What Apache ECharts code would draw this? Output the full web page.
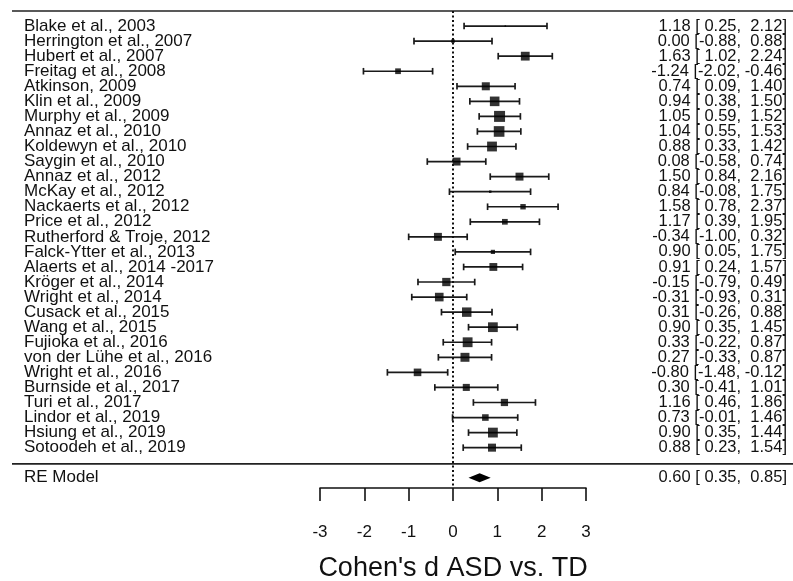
<!DOCTYPE html>
<html>
<head>
<meta charset="utf-8">
<script src="https://cdn.jsdelivr.net/npm/echarts@6.0.0/dist/echarts.min.js"></script>
<style>
  body { margin: 0; background: #fff; }
  #forest { width: 793px; height: 581px; }
</style>
</head>
<body>
<div id="forest"></div>
<script>
var studies = ['Blake et al., 2003', 'Herrington et al., 2007', 'Hubert et al., 2007', 'Freitag et al., 2008',
  'Atkinson, 2009', 'Klin et al., 2009', 'Murphy et al., 2009', 'Annaz et al., 2010', 'Koldewyn et al., 2010',
  'Saygin et al., 2010', 'Annaz et al., 2012', 'McKay et al., 2012', 'Nackaerts et al., 2012', 'Price et al., 2012',
  'Rutherford & Troje, 2012', 'Falck-Ytter et al., 2013', 'Alaerts et al., 2014 -2017', 'Kröger et al., 2014',
  'Wright et al., 2014', 'Cusack et al., 2015', 'Wang et al., 2015', 'Fujioka et al., 2016', 'von der Lühe et al., 2016',
  'Wright et al., 2016', 'Burnside et al., 2017', 'Turi et al., 2017', 'Lindor et al., 2019', 'Hsiung et al., 2019',
  'Sotoodeh et al., 2019'];
var est = [1.18, 0.00, 1.63, -1.24, 0.74, 0.94, 1.05, 1.04, 0.88, 0.08, 1.50, 0.84, 1.58, 1.17, -0.34, 0.90, 0.91,
  -0.15, -0.31, 0.31, 0.90, 0.33, 0.27, -0.80, 0.30, 1.16, 0.73, 0.90, 0.88];
var lower = [0.25, -0.88, 1.02, -2.02, 0.09, 0.38, 0.59, 0.55, 0.33, -0.58, 0.84, -0.08, 0.78, 0.39, -1.00, 0.05, 0.24,
  -0.79, -0.93, -0.26, 0.35, -0.22, -0.33, -1.48, -0.41, 0.46, -0.01, 0.35, 0.23];
var upper = [2.12, 0.88, 2.24, -0.46, 1.40, 1.50, 1.52, 1.53, 1.42, 0.74, 2.16, 1.75, 2.37, 1.95, 0.32, 1.75, 1.57,
  0.49, 0.31, 0.88, 1.45, 0.87, 0.87, -0.12, 1.01, 1.86, 1.46, 1.44, 1.54];
var reModel = { label: 'RE Model', est: 0.60, lower: 0.35, upper: 0.85 };
var xTicks = [-3, -2, -1, 0, 1, 2, 3];

var font = 'Liberation Sans, Arial, sans-serif';
var reRow = studies.length + 1;

// box size from the study weight (random-effects style, from the CI width)
var tau2 = 0.3;
var w = est.map(function (e, i) {
  var se = (upper[i] - lower[i]) / 3.92;
  return 1 / (se * se + tau2);
});
var wMin = Math.min.apply(null, w), wMax = Math.max.apply(null, w);
function boxSize(i) {
  var n = (w[i] - wMin) / (wMax - wMin);
  return 1.5 + 9.5 * Math.pow(n, 0.7);
}

function pad(v) {
  var s = v.toFixed(2);
  return s.length < 5 ? ' ' + s : s;
}
function annot(e, l, u) {
  return pad(e) + ' [' + pad(l) + ', ' + pad(u) + ']';
}

var rows = studies.map(function (s, i) { return i; });
var ciData = rows.map(function (i) { return [lower[i], upper[i], i]; });
var pointData = rows.map(function (i) { return [est[i], i]; });

var chart = echarts.init(document.getElementById('forest'));
chart.setOption({
  animation: false,
  grid: { left: 320, right: 207, top: 11, bottom: 93, outerBoundsMode: 'none' },
  xAxis: {
    type: 'value', min: xTicks[0], max: xTicks[xTicks.length - 1], interval: 1,
    name: "Cohen's d ASD vs. TD", nameLocation: 'middle', nameGap: 67,
    nameTextStyle: { fontFamily: font, fontSize: 27, color: '#111' },
    axisLine: { show: true, onZero: false, lineStyle: { color: '#111', width: 1.6 } },
    axisTick: { show: true, length: 13, lineStyle: { color: '#111', width: 1.6 } },
    axisLabel: { fontFamily: font, fontSize: 17, color: '#111', margin: 36 },
    splitLine: { show: false }
  },
  yAxis: [{
    type: 'value', inverse: true, min: -1, max: 30.68, interval: 1,
    axisLine: { show: false }, axisTick: { show: false }, splitLine: { show: false },
    axisLabel: {
      align: 'left', margin: 296, fontFamily: font, fontSize: 17, color: '#111',
      formatter: function (v) {
        if (v >= 0 && v < studies.length && v % 1 === 0) return studies[v];
        if (v === reRow) return reModel.label;
        return '';
      }
    }
  }, {
    type: 'value', inverse: true, min: -1, max: 30.68, interval: 1, position: 'right',
    axisLine: { show: false }, axisTick: { show: false }, splitLine: { show: false },
    axisLabel: {
      align: 'right', margin: 201, fontFamily: font, fontSize: 16.5, color: '#111',
      formatter: function (v) {
        if (v >= 0 && v < studies.length && v % 1 === 0) return annot(est[v], lower[v], upper[v]);
        if (v === reRow) return annot(reModel.est, reModel.lower, reModel.upper);
        return '';
      }
    }
  }],
  series: [{
    type: 'custom',
    data: ciData,
    encode: { x: [0, 1], y: 2 },
    renderItem: function (params, api) {
      var y = api.value(2);
      var p1 = api.coord([api.value(0), y]);
      var p2 = api.coord([api.value(1), y]);
      var h = 3.3;
      var st = { stroke: '#1a1a1a', lineWidth: 1.7 };
      return {
        type: 'group', children: [
          { type: 'line', shape: { x1: p1[0], y1: p1[1], x2: p2[0], y2: p2[1] }, style: st },
          { type: 'line', shape: { x1: p1[0], y1: p1[1] - h, x2: p1[0], y2: p1[1] + h }, style: st },
          { type: 'line', shape: { x1: p2[0], y1: p2[1] - h, x2: p2[0], y2: p2[1] + h }, style: st }
        ]
      };
    }
  }, {
    type: 'scatter',
    data: pointData,
    symbol: 'rect',
    symbolSize: function (val, params) { return boxSize(params.dataIndex); },
    itemStyle: { color: '#000' },
    markLine: {
      silent: true, symbol: 'none', label: { show: false },
      lineStyle: { color: '#111', type: [2, 2.5], width: 2 },
      data: [{ xAxis: 0 }]
    }
  }, {
    type: 'custom',
    data: [[reModel.lower, reModel.est, reModel.upper, reRow]],
    encode: { x: [0, 1, 2], y: 3 },
    renderItem: function (params, api) {
      var y = api.value(3);
      var l = api.coord([api.value(0), y]);
      var c = api.coord([api.value(1), y]);
      var r = api.coord([api.value(2), y]);
      var h = 4.5;
      return {
        type: 'polygon',
        shape: { points: [[l[0], l[1]], [c[0], c[1] - h], [r[0], r[1]], [c[0], c[1] + h]] },
        style: { fill: '#000' }
      };
    }
  }]
});

var yTop = chart.convertToPixel({ yAxisIndex: 0 }, -1);
var ySep = chart.convertToPixel({ yAxisIndex: 0 }, studies.length + 0.08);
chart.setOption({
  graphic: [
    { type: 'line', shape: { x1: 12, y1: yTop, x2: 793, y2: yTop }, style: { stroke: '#222', lineWidth: 1.6 } },
    { type: 'line', shape: { x1: 12, y1: ySep, x2: 793, y2: ySep }, style: { stroke: '#222', lineWidth: 1.6 } }
  ]
});
</script>
</body>
</html>
